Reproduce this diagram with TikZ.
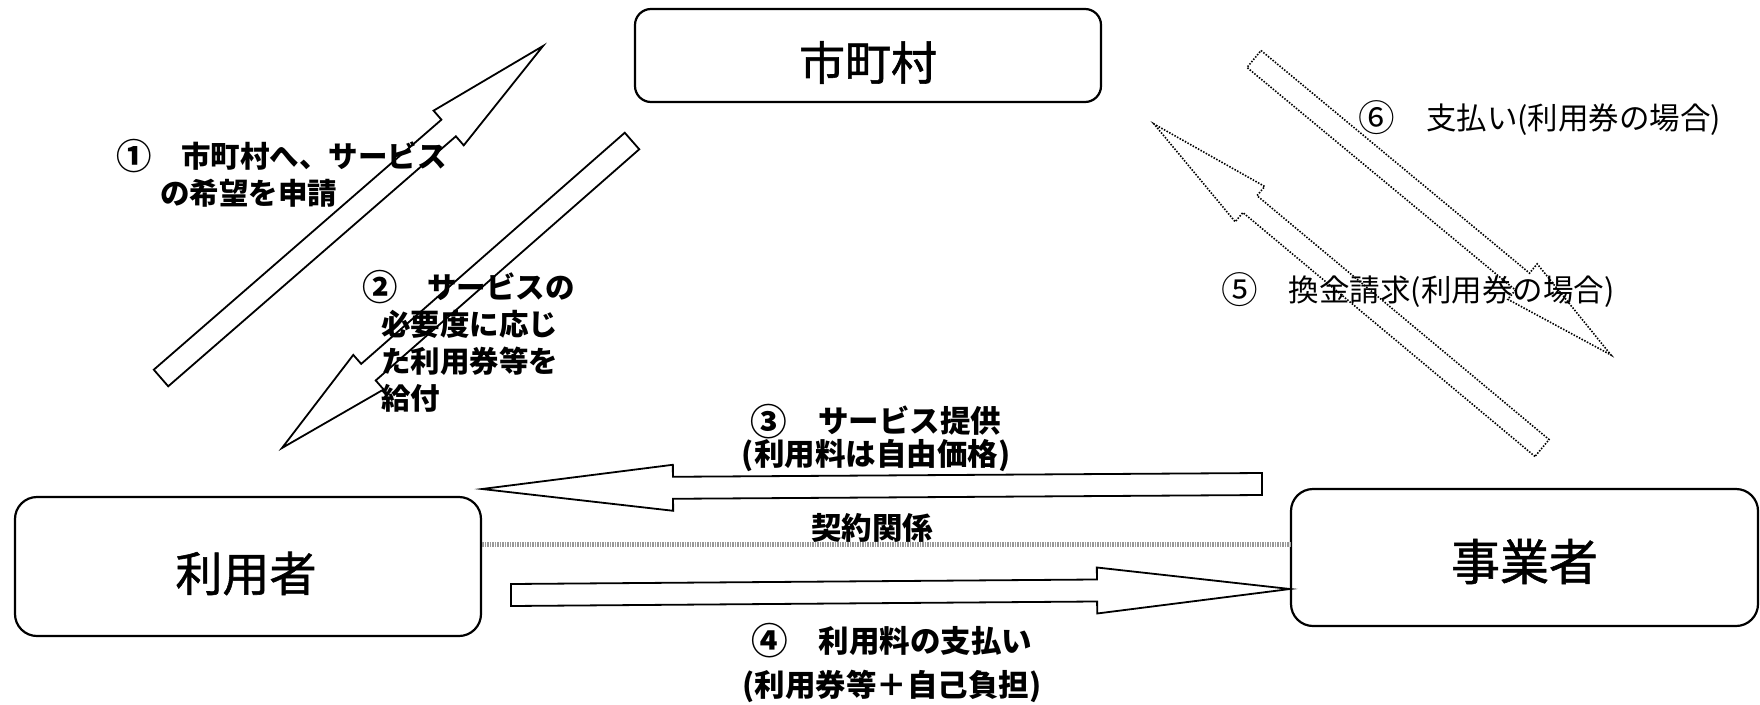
\documentclass[tikz,border=0pt]{standalone}
\usepackage{fontspec}
\usepackage{graphicx}
\setmainfont{Noto Sans CJK JP}
\newfontfamily\boxfont[FakeBold=1.2]{Noto Sans CJK JP}
\usetikzlibrary{calc}
\tikzset{
  box_n/.style = {draw=black, line width=2.2pt, rounded corners=22pt,
    fill=white, inner sep=0pt},
  box_t/.style = {inner sep=0pt, font=\boxfont\fontsize{47}{47}\selectfont},
  lbl_b/.style = {inner sep=0pt, font=\bfseries\fontsize{29.5}{37}\selectfont},
  lbl_r/.style = {inner sep=0pt, font=\fontsize{30.5}{36}\selectfont},
  blk_arr/.style = {draw=black, line width=1.8pt, fill=white, line join=miter},
  dot_arr/.style = {blk_arr, line width=1.6pt, dash pattern=on 1.5pt off 1.5pt},
  contract_l/.style = {draw=black!40, line width=5pt,
    dash pattern=on 1.5pt off 1pt}}
% block arrow: style, from, to, head length
\newcommand{\blkarrow}[4]{%
  \coordinate (hb) at ($(#3)!#4!(#2)$);
  \draw[#1] ($(#2)!11pt!90:(#3)$) -- ($(hb)!11pt!-90:(#2)$)
    -- ($(hb)!23pt!-90:(#2)$) -- (#3) -- ($(hb)!23pt!90:(#2)$)
    -- ($(hb)!11pt!90:(#2)$) -- ($(#2)!11pt!-90:(#3)$) -- cycle;}
\newcommand{\cnum}[1]{\raisebox{-0.07em}{\scalebox{1.2}{#1}}}

\begin{document}
\begin{tikzpicture}[x=1pt, y=-1pt]
\useasboundingbox (0,0) rectangle (1760,704);

\node [box_n, rounded corners=16pt, minimum width=466pt, minimum height=93pt]
  (city) at (868,55.5) {};
\node [box_n, minimum width=466pt, minimum height=139pt] (user) at (248,566.5) {};
\node [box_n, minimum width=467pt, minimum height=137pt] (prov) at (1524.5,557.5) {};
\node [box_t, font=\boxfont\fontsize{46}{46}\selectfont] (city_t)
  at ([yshift=-7pt]city.center) {市町村};
\node [box_t] (user_t) at ([xshift=-2pt, yshift=-7pt]user.center) {利用者};
\node [box_t, font=\boxfont\fontsize{49}{49}\selectfont] (prov_t)
  at ([yshift=-4pt]prov.center) {事業者};

\coordinate (a1_s) at (161,378);  \coordinate (a1_e) at (543,46);
\coordinate (a2_s) at (632,141);  \coordinate (a2_e) at (282,448);
\coordinate (a3_s) at (1262,484); \coordinate (a3_e) at (482,489);
\coordinate (a4_s) at (511,595);  \coordinate (a4_e) at (1290,589);
\coordinate (a5_s) at (1542,448); \coordinate (a5_e) at (1154,124);
\coordinate (a6_s) at (1254,59);  \coordinate (a6_e) at (1611,355);
\coordinate (c_y) at (0,544);

\draw [contract_l] (user.east |- c_y) -- (prov.west |- c_y);

\blkarrow{blk_arr}{a1_s}{a1_e}{125pt}
\blkarrow{blk_arr}{a2_s}{a2_e}{115pt}
\blkarrow{blk_arr}{a3_s}{a3_e}{191pt}
\blkarrow{blk_arr}{a4_s}{a4_e}{193pt}
\blkarrow{dot_arr}{a5_s}{a5_e}{125pt}
\blkarrow{dot_arr}{a6_s}{a6_e}{115pt}

\node [lbl_b, anchor=west, align=left] (t1) at (116,173.5)
  {\cnum{①}　市町村へ、サービス\\\hspace*{1.5em}の希望を申請};
\node [lbl_b, anchor=west, align=left] (t2) at (362,341)
  {\cnum{②}　サービスの\\\hspace*{0.65em}必要度に応じ\\\hspace*{0.65em}た利用券等を\\\hspace*{0.65em}給付};
\node [lbl_b, align=center, font=\bfseries\fontsize{30.5}{33}\selectfont]
  (t3) at (876,438) {\cnum{③}　サービス提供\\(利用料は自由価格)};
\node [lbl_b, font=\bfseries\fontsize{30.5}{30.5}\selectfont] (t_c) at (872,528) {契約関係};
\node [lbl_b, align=center, font=\bfseries\fontsize{30.5}{44}\selectfont]
  (t4) at (892,663) {\cnum{④}　利用料の支払い\\(利用券等＋自己負担)};
\node [lbl_r] (t5) at (1418,290) {\cnum{⑤}　換金請求(利用券の場合)};
\node [lbl_r] (t6) at (1540,118) {\cnum{⑥}　支払い(利用券の場合)};
\end{tikzpicture}
\end{document}
